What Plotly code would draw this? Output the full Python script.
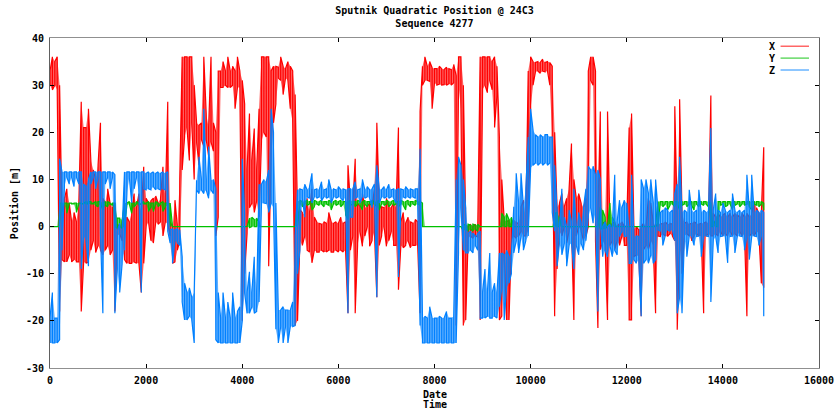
import plotly.graph_objects as go

# Position samples, binned every 50 time units: each bin keeps the lowest
# and highest reading seen in that interval (metres).
T_STEP = 50

x_lo = [
    30, 29, 30, 29, -18, -7, -7.5, -7.5, -6, -7.5, -7, -7.5, -7.5, -18, -7.5, -7.8, -7.5, -5, -3, -5.5,
    -4, -5, -6, -5, -4, -6, -5, -18, -2, -1.5, -3, -7, -7.8, -7.8, -7.8, -7.5, -7.8, -7.8, -14, -7.8,
    0, 1, -3, -3.5, 1, 0.5, 1, -2, 1, 0.5, -2, -7.8, -7.5, -5, -3, 12, 19, 21, 14, 22,
    10, 18, 13, 18.5, 17, 18.5, 15, 18, 16, -2, 2, 29.5, 29.5, 30, 29.5, 29.5, 30, 25, 29.5, 29.5,
    -20, -10, -1.5, 4, 5, 3, 5.5, 2, 18, 20, 19, -8.4, 14, 22, 26, 31.5, 31, 28, 31.5, 31,
    25, 22, -21, -20, -3, -4, -2, -5, -5.4, -7.7, -5, -5.4, -5.4, -5, -5.4, -5.4, -5, -5.4, -5.4, -5,
    -5.4, -5, -5.4, -5, -18.4, -5, -2, -18.4, -4, -1, -4.2, -2, 0, -4.2, -3, -1, -15, -4, -2, 0,
    -4.2, -3, -1, -4, -4, -13.4, -4, -4.5, -4, -3, -4.5, -4, -4, -4, -18.4, 30, 31, 31, 30.8, 25,
    30.5, 30, 30.2, 30, 30.1, 30, 30.3, 30, 30.5, -21, 30, 25, -21, -19.8, -2.5, -2, -2.5, -2, -2.2, -19.8,
    29, 30, 28.4, 31, 29, 21, 28, -19.8, -19, -6, -19.8, -19.8, -3, -2, -2.5, -2, -1, -2, -2, -1,
    25, 30, 32.8, 33, 32.5, 33, 32.8, 33, 30, 19, -19, -9, -1, -2, 0, -3.5, -1, 0, -19.8, -2,
    0, -1, -3, -2, 0, 31, 30, -3, -21.5, -4.9, -3, -4, -19.8, -4, -3, -4.9, -3, -4, -2, -4,
    -4, -19.8, -19.8, -6.4, -6, -6.4, -19, -4.9, -4, -4.9, -3, -4, -18.4, -2, -2.1, -1.5, -2, -2.1, -1.5, -2,
    -3, -21.9, -4, -10, -2, -1.5, -2, -3, -2, -1.5, -2, -2, -18.4, -2, -1.5, -2, -2, -1.5, -2, -1,
    -2, -1.5, -2, -1, -2, -1.5, -2, -1, -2, -1.5, -19, -2, -1.5, -2, -1, -1.5, -12, -13,
]
x_hi = [
    33, 36, 35, 36, 30, 2, 6, 8, 5, 1, 3, 1, 5, 26.5, 21, 21, 25, 14, 12, 10,
    13, 22, 6, 5, 8, 5, 4, 5, 0.5, 0, 1, 2, 2, 1, 3, 7, 4, 7, 3, 12.7,
    6, 5, 5.5, 6, 6.5, 5, 6, 12.7, 6, 26.5, 1, 0, 5.6, 0, 10, 36, 36, 36, 36, 36,
    30, 22, 21.5, 22, 36, 24, 21, 36, 22, 20, 33, 33, 35, 33, 36, 33, 34, 33, 36, 33,
    31, 26, 12, 24, 14, 20.8, 12, 25, 36, 36, 36, 36, 33, 34, 34, 33.8, 36, 34, 33.5, 35,
    34, 33, 28, 3, 3.6, 3, 2.5, 6, 3, 8, 2, 1, 0.7, 0.5, 1, 0.7, 3, 1, 0.7, 1,
    0.7, 2, 0.7, 1, 13, 5, 4.2, 14.4, 5, 4.2, 7, 4, 4.2, 5, 4.2, 8, 22, 5, 4.2, 4,
    6, 4.2, 4, 5, 4, 21, 1, 3, 0.7, 2, 1, 0.7, 1.5, 1, 24.4, 34, 36, 34, 35, 33.7,
    33.5, 33.5, 34, 33.5, 33.3, 33.8, 33.5, 33.3, 34.4, 32, 36, 36, 30, 0.5, 0, 0.5, 0, 0.5, 0, 36,
    36, 36, 36, 36, 35, 36, 34, 19, 10, 1.5, 1, 1.4, 0.5, 1.4, 1, 0.5, 4.2, 5.6, 1.5, 33,
    36, 35, 34.8, 35, 34.8, 35.5, 34.8, 35, 34.8, 34, 20, 4, 5, 7, 4.2, 6, 8, 17.6, 10, 6,
    7, 5, 4, 6, 33, 36, 36, 33, 2, 24.4, 0.7, 1, 24.4, 0.5, 0.7, 1, 0, 0.7, 1, 0,
    0.5, 21, 24, -0.5, 0, -0.7, 0, 0.7, 0, 6, 5, 1, 0, 0.7, 0.5, 0.7, 1, 0.5, 0.7, 0.5,
    25.5, 2, 27, 3, 0.7, 1, 0.5, 0.7, 1, 0.7, 0.5, 0.7, 0.7, 1, 0.7, 27.8, 2.8, 2, 2.8, 2,
    2.5, 2.8, 2, 2.8, 2, 2.8, 2.5, 2, 2.8, 2, 2.8, 2, 2.8, 5.3, 4, 2.8, 2.8, 16.8,
]

y_lo = [
    0, 0, 0, 0, 0, 3, 4.8, 2.8, 4.8, 4.8, 4.8, 3, 4.8, 4.8, 4.8, 4.8, 4.8, 4.8, 4.8, 4.5,
    4.2, 4.8, 3.5, 4.5, 4.2, 4.8, 4.5, 0, -0.4, 0, -0.4, 0, 4.6, 4.8, 2.8, 4.2, 4.8, 4.6, 4.8, 4.8,
    4.8, 3.2, 4.2, 3.2, 4.8, 4.2, 4.8, 3.2, 4.2, 4.5, 0, 0, 0, 0, 0, 0, 0, 0, 0, 0,
    0, 0, 0, 0, 0, 0, 0, 0, 0, 0, 0, 0, 0, 0, 0, 0, 0, 0, 0, 0,
    0, 0, 0, -0.2, 0, 0, 0, 0, 0, 0, 0, 0, 0, 0, 0, 0, 0, 0, 0, 0,
    0, 0, 0, 0, 4.8, 4.2, 4.8, 4.5, 4.8, 3.5, 4.2, 4.8, 4.5, 4.8, 4.2, 4.8, 4.5, 3.5, 4.8, 4.5,
    4.8, 4.2, 4.8, 2.5, 1.5, 4.5, 4.8, 4.2, 4.8, 4.5, 3.5, 4.8, 4.2, 4.8, 4.5, 4.8, 4.2, 3.5, 4.8, 4.5,
    4.8, 4.2, 4.8, 4.5, 4.8, 4.2, 4.8, 4.5, 3.5, 4.8, 4.2, 4.8, 4.5, 4.8, 4.5, 0, 0, 0, 0, 0,
    0, 0, 0, 0, 0, 0, 0, 0, 0, 0, 0, 0, -1, -0.5, -1, -0.5, -1, -0.5, -1, 0,
    0, 0, 0, 0, 0, 0, 0, 0, 0, 0, 0, 0, 0, 0, 0, 0, 0, 0, 0, 0,
    0, 0, 0, 0, 0, 0, 0, 0, 0, 0, 0, 0, 0, 0, 0, 0, 0, 0, 0, 0,
    0, 0, 0, 0, 0, 0, 0, 0, 0, -0.5, -0.5, -0.5, 0, 0, 0, 0, 0, 0, 0, 0,
    0, 0, 0, 0, 0, 0, 0, 0, 0, 0, 0, 0, 0, 0, 4.5, 4.2, 4.8, 3.5, 4.5, 4.8,
    4.2, 4.8, 3.5, 4.5, 4.8, 4.2, 4.8, 4.5, 3.5, 4.8, 4.2, 4.8, 4.5, 4.8, 4.2, 0, 0, 0, 0, 4.5,
    4.8, 4.2, 4.5, 4.8, 3.5, 4.5, 4.8, 4.2, 4.8, 4.5, 4.8, 4.2, 3.5, 4.8, 4.5, 4.2, 4.8, 3.5,
]
y_hi = [
    0, 0, 0, 0, 5, 5, 5, 5, 5, 5, 5, 5, 5, 5, 5, 5.3, 5.3, 5.3, 5, 5.3,
    5.3, 5.3, 5, 5.3, 5.3, 5, 5, 5, 1.8, 1.8, 1.4, 5, 5, 5.3, 5, 5, 5.3, 5, 5, 5.3,
    5, 5.3, 5, 5, 5.3, 5, 5, 5.3, 5, 5, 5, 0, 0, 0, 0, 0, 0, 0, 0, 0,
    0, 0, 0, 0, 0, 0, 0, 0, 0, 0, 0, 0, 0, 0, 0, 0, 0, 0, 0, 0,
    0, 0, 0, 1.8, 2, 1.5, 1.8, 1, 0, 0, 0, 0, 0, 0, 0, 0, 0, 0, 0, 0,
    0, 0, 0, 5.3, 5.6, 5.3, 5.3, 5.6, 5.3, 5.3, 5.6, 5.3, 5.3, 5.6, 5.3, 5.3, 5.6, 5.3, 5.3, 5.6,
    5.3, 5.6, 5.3, 5.3, 5.3, 5.6, 5.3, 5.3, 5.6, 5.3, 5.3, 5.6, 5.3, 5.3, 5.6, 5.3, 5.3, 5.6, 5.3, 5.3,
    5.6, 5.3, 5.3, 5.6, 5.3, 5.3, 5.6, 5.3, 5.3, 5.6, 5.3, 5.3, 5.6, 5.3, 5.3, 5, 0, 0, 0, 0,
    0, 0, 0, 0, 0, 0, 0, 0, 0, 0, 0, 0, 0.5, 0.3, 0.5, 0.3, 0.5, 0.3, 0.5, 0,
    0, 0, 0, 0, 0, 0, 0, 0, 2.8, 2, 2.8, 1.5, 2, 0, 0, 0, 0, 0, 0, 0,
    0, 0, 0, 0, 0, 0, 0, 0, 0, 0, 2.8, 3, 2, 0, 0, 0, 0, 0, 0, 0,
    0, 0, 0, 0, 0, 0, 0, 0, 0, 4.2, 3.5, 2, 0, 5, 2, 1, 0, 0, 0, 0,
    0, 0, 0, 0, 0, 0, 0, 0, 0, 0, 0, 0, 0.5, 5.3, 5.3, 5.3, 5.3, 5.3, 5.3, 5.3,
    5.3, 5.3, 5.3, 5.3, 5.3, 5.3, 5.3, 5.3, 5.3, 5.3, 5.3, 5.3, 5.3, 5.3, 5.3, 5, 1.4, 0.5, 5.3, 5.3,
    5.3, 5.3, 5.3, 5.3, 5.3, 5.3, 5.3, 5.3, 5.3, 5.3, 5.3, 5.3, 5.3, 5.3, 5.3, 5.3, 5.3, 5,
]

z_lo = [
    -24.7, -24.7, -24.7, -24.7, -24, -5, 8.5, 10.5, 9, 10.5, 8.5, 10.5, 9, -9, -2, -3, -8.4, 9, 10.5, 8,
    10.5, -1.4, -18.4, 9, 10.5, 8, 10.5, -18.4, -9, -14, -8, -5, 7, 10.5, 5, 8, 10.5, 7, -14, 8,
    7.8, 8, 7.8, 8.5, 7.8, 8, 7.8, 8, 7.8, -1, -3.5, -7.8, -3, -3.5, -4, -16, -19.8, -19.8, -19, -19.8,
    -24.7, 7.8, 7, 7.8, 7, 7.8, 6, 7.8, 7, -24, -24.7, -24.7, -24.7, -24.7, -24.7, -24.7, -24.7, -24.7, -24.7, -24.7,
    -20, -14, -18.4, -18.4, -17, -18.4, -18, -16, 4.9, 5, 4.9, 3, 4.9, 4, -21.8, -24.7, -21.2, -24.7, -21.2, -24.7,
    -21.2, -21.2, -21, -10, -5, 6, 2, 6.3, 6, 5, 6.3, 6, 6.3, 5.5, 6.3, 6, 6.3, 5, 6.3, 6,
    6.3, 6, 5.5, 6.3, -18.4, 2, 2, 6, 6.3, 5, 6.3, 6, 6.3, 6, 4, 6.3, -15, 5, 6.3, 6,
    6.3, 6, 6.3, 6, 5, -10.7, 4, 6.3, 6, 6.3, 6, 6.3, 6, 5, -21, -24.7, -24.7, -24.7, -24.7, -24.7,
    -24.7, -24.7, -24.7, -24.7, -24.7, -24.7, -24.7, -24.7, -24.7, -24.7, -5.6, 4, -5, -5.6, -5.6, -5, -5.6, -4, -5, -19.4,
    -19.4, -19.4, -19, -19.4, -19.4, -19, -19.4, -17, -13, -19.8, -13, -12, -10, -5.6, -3, -5.6, -2, -5, -3, -2,
    12.4, 13, 13.5, 13, 13.5, 13, 13.5, 13, 13.5, 3, -1, -8.4, -3.5, -6, -3.5, -8.4, -4, -3.5, -9, -4,
    -6, -3.5, -5, -3, 2, 4, 0.7, 3, -18, 1, -6.4, -5, -6.4, -4, -6.4, -5, -6, -2.1, -1, -2.1,
    -2, -7.8, -7.8, -7, -7.8, -7, -19, -7.8, -7, -7.8, -6, -7.8, -7, -0.7, -1, -4, -2, -0.7, -1, -0.7,
    -3, -18.4, -15, -18.4, -2.1, -6.4, -2, -2.1, -4, -2.1, -2, -6.4, -2.1, -2, -2.1, -16, -3, -2.1, -5.6, -2.1,
    -2, -2.1, -7.7, -2.1, -2, -5.6, -2.1, -2, -2.1, -5, -2.1, -7, -2.1, -2, -2.1, -4, -2, -19,
]
z_hi = [
    -19.4, -14, -19.4, -19.4, 14.4, 11.6, 11.6, 11.6, 11.6, 11.6, 11.6, 11.6, 11.6, 11.6, 9, 8.5, 10, 11.6, 11.6, 11.6,
    11.6, 11.6, 11.6, 11.6, 11.6, 11.6, 11.6, 11, -1, 0.7, -1, 11.6, 11.6, 11.6, 11.6, 11.6, 11.6, 11.6, 11.6, 11.6,
    11.3, 11.6, 11.3, 11.6, 11.3, 11.6, 11.3, 11.6, 11.3, 11.6, -0.7, -0.5, -0.7, -0.5, -0.7, -6.4, -12, -14, -13, -15,
    -14, 9.8, 14.8, 10, 25, 10, 17, 9.8, 10, 8, -14, -19.4, -14, -19.4, -16, -19.4, -14, -19.4, -18, -17,
    14.4, 3, -14, -9.6, -14, -6.4, -14, 9, 9, 10, 9.5, 12, 25, 20, 5, -17.7, -17.7, -17, -17.7, -17.7,
    -17.7, -16, -2, 7.8, 8, 7.8, 9, 7.8, 8.5, 11.3, 7.8, 8, 7.8, 9.5, 7.8, 8, 10, 7.8, 8, 7.8,
    8.5, 7.8, 8, 7.8, 8, 8, 8, 9.5, 7.8, 8, 10, 7.8, 8.5, 7.8, 8, 9, 13, 8, 7.8, 8.5,
    7.8, 9, 7.8, 8, 7.8, 8, 8, 7.8, 8.5, 7.8, 8, 7.8, 8, 8, 16.5, -19.4, -19, -19.4, -17, -19.4,
    -19.4, -19.4, -19, -19.4, -19.4, -18, -19.4, -19.4, -19, 10, 14.8, 13, 10, 4, -1.4, -1, -1.4, -2, -1.4, -1,
    -14, -9, -14, -5.6, -14, -12, -14, -5.6, -5.6, -6, -5, -6.4, -5.6, 4.2, 11.3, 5, 11.3, 4.2, 8, 19,
    25, 20.5, 19.5, 19, 19.5, 19, 19.5, 19.5, 19, 19, 13, 3.5, 0, 8, 2, 0, 3.5, 1, 8, 0,
    3, 0.7, 4, 8, 12.8, 12, 12.8, 11, 12, 10, 0, 1, 0, 0.5, 0, 11, 1, 5.6, 4, 5.6,
    5, -1, 11, -2.1, -2, -2.1, 10, 8, 10, 7, 10, 5, 10, 3.5, 3, 3.5, 4, 3.5, 3, 3.5,
    7, 9, 14.8, 3, 3.5, 3, 7.8, 3.5, 3, 3.5, 7.8, 3, 3.5, 3, 3.5, 20.9, 3.5, 7, 3.5, 3,
    5, 3.5, 3, 3.5, 7, 3.5, 3, 3.5, 3, 3.5, 11, 3.5, 11, 3, 3.5, 3, 3.5, 3,
]

SERIES = [
    ("X", x_lo, x_hi, "255,0,0"),
    ("Y", y_lo, y_hi, "0,192,0"),
    ("Z", z_lo, z_hi, "0,128,255"),
]

X_TICKS = [0, 2000, 4000, 6000, 8000, 10000, 12000, 14000, 16000]
Y_TICKS = [-30, -20, -10, 0, 10, 20, 30, 40]

FONT = "DejaVu Sans Mono"


def band_outline(lo, hi, step):
    """Closed outline running along the bin maxima and back along the minima."""
    ts = [i * step for i in range(len(lo))]
    return ts + ts[::-1], list(hi) + list(lo)[::-1]


def bin_strokes(lo, hi, step):
    """One vertical stroke per bin from min to max, alternating direction."""
    ts, vs = [], []
    for i, (a, b) in enumerate(zip(lo, hi)):
        t = i * step
        ts += [t, t]
        vs += [a, b] if i % 2 == 0 else [b, a]
    return ts, vs


fig = go.Figure()
for name, lo, hi, rgb in SERIES:
    # wash over the sampled range, then the per-bin strokes on top
    ts, vs = band_outline(lo, hi, T_STEP)
    fig.add_trace(go.Scatter(
        x=ts, y=vs, mode="none", fill="toself",
        fillcolor=f"rgba({rgb},0.62)", showlegend=False, hoverinfo="skip",
    ))
    ts, vs = bin_strokes(lo, hi, T_STEP)
    fig.add_trace(go.Scatter(
        x=ts, y=vs, mode="lines", name=name,
        line=dict(color=f"rgb({rgb})", width=1.2),
        showlegend=False, hoverinfo="skip",
    ))

# key in the top-right corner: label followed by a line sample
for k, (name, _, _, rgb) in enumerate(SERIES):
    yk = 0.975 - k * 0.036
    fig.add_annotation(
        x=0.945, y=yk, xref="paper", yref="paper", text=name,
        showarrow=False, xanchor="right", yanchor="middle",
        font=dict(family=FONT, size=10, color="#000", weight="bold"),
    )
    fig.add_shape(
        type="line", xref="paper", yref="paper",
        x0=0.950, x1=0.987, y0=yk, y1=yk,
        line=dict(color=f"rgba({rgb},0.6)", width=1.5),
    )

axis_font = dict(family=FONT, size=10, color="#000", weight="bold")

# two-line horizontal axis caption
for k, word in enumerate(["Date", "Time"]):
    fig.add_annotation(
        x=0.5, y=-0.080 - k * 0.031, xref="paper", yref="paper", text=word,
        showarrow=False, xanchor="center", yanchor="middle", font=axis_font,
    )

fig.update_layout(
    width=836, height=412,
    margin=dict(l=50, r=17, t=38, b=44, autoexpand=False),
    paper_bgcolor="white", plot_bgcolor="white",
    title=dict(
        text="Sputnik Quadratic Position @ 24C3<br>Sequence 4277",
        x=0.5, xref="paper", xanchor="center",
        y=0.966, yref="container", yanchor="middle", automargin=False,
        font=dict(family=FONT, size=10, color="#000", weight="bold"),
    ),
    xaxis=dict(
        range=[0, 16000], tickvals=X_TICKS, ticktext=[str(v) for v in X_TICKS],
        ticks="inside", ticklen=4, tickcolor="#000", tickwidth=1,
        showline=True, linecolor="#909090", linewidth=1, mirror="ticks",
        showgrid=False, zeroline=False, tickfont=axis_font,
        ticklabelstandoff=3, automargin=False,
    ),
    yaxis=dict(
        range=[-30, 40], tickvals=Y_TICKS, ticktext=[str(v) for v in Y_TICKS],
        ticks="inside", ticklen=4, tickcolor="#000", tickwidth=1,
        showline=True, linecolor="#606060", linewidth=1, mirror="ticks",
        showgrid=False, zeroline=False, tickfont=axis_font,
        ticklabelstandoff=3, automargin=False,
        title=dict(text="Position [m]", font=axis_font, standoff=5),
    ),
)

fig.write_html("out.html")
